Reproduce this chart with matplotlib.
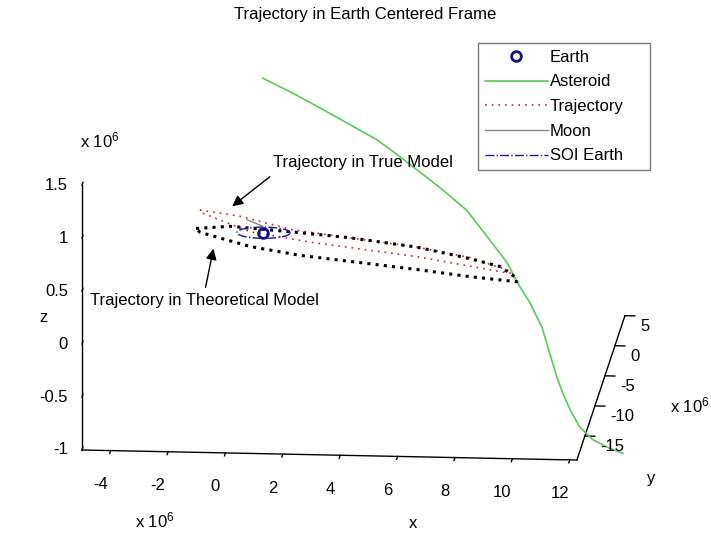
import numpy as np
import matplotlib
matplotlib.use('Agg')
import matplotlib.pyplot as plt
from matplotlib import ticker
from matplotlib.patches import FancyArrowPatch
from mpl_toolkits.mplot3d import proj3d

plt.rcParams['font.family'] = ['Liberation Sans', 'DejaVu Sans']
plt.rcParams['mathtext.fontset'] = 'custom'
plt.rcParams['mathtext.rm'] = 'Liberation Sans'
plt.rcParams['mathtext.default'] = 'rm'

# all positions in units of 10^6 km, Earth centred frame
earth = [0.0, 0.0, 0.0]

ast_x = [-0.30, 0.82, 1.93, 2.94, 3.95, 4.55, 5.45, 6.43, 7.33, 8.21, 8.87,
         9.39, 9.79, 10.28, 10.64, 10.98, 11.27, 11.66, 12.14, 12.70, 13.26, 13.89]
ast_y = [4.0, 3.0, 2.0, 1.0, 0.0, -0.5, -1.5, -2.5, -3.5, -4.5, -5.5,
         -6.5, -7.3, -8.2, -9.5, -10.8, -12.0, -14.0, -16.0, -17.5, -18.5, -19.5]
ast_z = [1.23, 1.15, 1.06, 0.98, 0.90, 0.82, 0.71, 0.58, 0.45, 0.23, 0.08,
         -0.09, -0.19, -0.37, -0.54, -0.69, -0.77, -0.81, -0.86, -0.89, -0.90, -0.90]

# trajectory, true model (red)
true_x = [-2.28, -0.82, -0.02, 1.11, 3.19, 5.63, 7.56, 9.08, 9.01, 5.63, 1.73, -0.46, -2.28, -2.28]
true_y = [0.91, 0.01, -0.49, -1.18, -2.47, -3.97, -5.17, -6.11, -6.06, -3.97, -1.57, -0.22, 0.91, 0.91]
true_z = [0.15, 0.15, 0.13, 0.10, 0.11, 0.12, 0.10, 0.03, 0.01, 0.03, 0.01, 0.02, 0.13, 0.15]

# trajectory, theoretical model (black)
theo_x = [-2.42, -1.18, 1.11, 3.19, 5.63, 7.56, 8.65, 9.23, 9.26, 7.56, 5.73, 3.55, 1.36, -0.46, -2.28, -2.42]
theo_y = [1.0, 0.24, -1.18, -2.47, -3.97, -5.17, -5.84, -6.2, -6.2, -5.17, -4.04, -2.69, -1.34, -0.22, 0.91, 1.0]
theo_z = [-0.03, 0.04, 0.08, 0.11, 0.12, 0.09, 0.06, -0.02, -0.06, -0.08, -0.09, -0.11, -0.13, -0.12, -0.06, -0.03]

moon_x = [-0.57, -0.30, -0.02]
moon_y = [0.0, 0.0, 0.0]
moon_z = [0.12, 0.09, 0.06]

soi_r = 0.925

x_ticks = [-4, -2, 0, 2, 4, 6, 8, 10, 12]
y_ticks = [-15, -10, -5, 0, 5]
z_ticks = [-1, -0.5, 0, 0.5, 1, 1.5]
x_lim = (-5, 12.25)
y_lim = (-19, 5)
z_lim = (-1, 1.5)

W, H = 711, 535
fig = plt.figure(figsize=(W / 100, H / 100), dpi=100)
fig.patch.set_facecolor('white')
ax = fig.add_axes([-0.2, -0.3, 1.4, 1.6], projection='3d', proj_type='ortho')
ax.patch.set_alpha(0)

ax.set_xlim(*x_lim)
ax.set_ylim(*y_lim)
ax.set_zlim(*z_lim)
ax.view_init(elev=14.3, azim=-85.3)
aspect = (497, 587, 273.5)
ax.set_box_aspect(aspect)

# curves
ast_h, = ax.plot(ast_x, ast_y, ast_z, color='#55cc55', lw=1.2, clip_on=False)
true_h, = ax.plot(true_x, true_y, true_z, color='#cc2222', lw=1.2,
                  linestyle=(0, (1, 3)), clip_on=False)
ax.plot(theo_x, theo_y, theo_z, color='k', lw=2.2, linestyle=(0, (1, 1.7)), clip_on=False)
moon_h, = ax.plot(moon_x, moon_y, moon_z, color='#888888', lw=1, clip_on=False)
t = np.linspace(0, 2 * np.pi, 120)
soi_h, = ax.plot(soi_r * np.cos(t), soi_r * np.sin(t), np.zeros_like(t),
                 color='#1a1a8c', lw=1, linestyle='-.', clip_on=False)
earth_h, = ax.plot([earth[0]], [earth[1]], [earth[2]], 'o', color='#101090',
                   ms=7, mew=2, mfc='none', clip_on=False)

# axes look (tick labels are written below, MATLAB style)
ax.grid(False)
tick_dirs = {'x': (0.25, 0.0), 'y': (0.25, 0.0), 'z': (0.0, 0.25)}
for name, a, tk in (('x', ax.xaxis, x_ticks), ('y', ax.yaxis, y_ticks), ('z', ax.zaxis, z_ticks)):
    a.set_pane_color((1, 1, 1, 0))
    a.pane.set_edgecolor((1, 1, 1, 0))
    a.line.set_color('k')
    a.line.set_linewidth(1)
    a.set_ticks(tk)
    a.set_major_formatter(ticker.NullFormatter())
    a._axinfo['tick']['inward_factor'] = tick_dirs[name][0]
    a._axinfo['tick']['outward_factor'] = tick_dirs[name][1]
    a._axinfo['tick']['linewidth'] = {True: 1.0, False: 0.5}
ax.zaxis.set_ticks_position('lower')


def to_px(x, y, z):
    xs, ys, _ = proj3d.proj_transform(x, y, z, ax.get_proj())
    return ax.transData.transform((xs, ys))


# fit the projected box onto the reference frame
fig.canvas.draw()
p0 = to_px(x_lim[0], y_lim[0], z_lim[0])
p1 = to_px(x_lim[1], y_lim[0], z_lim[0])
ax.set_box_aspect(aspect, zoom=495 / np.hypot(*(p1 - p0)))
fig.canvas.draw()
p0 = to_px(x_lim[0], y_lim[0], z_lim[0])
pos = ax.get_position(original=True)
ax.set_position([pos.x0 + (82 - p0[0]) / W, pos.y0 + ((H - 450) - p0[1]) / H,
                 pos.width, pos.height])
fig.canvas.draw()

# tick labels
for v in x_ticks:
    px, py = to_px(v, y_lim[0], z_lim[0])
    fig.text((px - 10) / W, (py - 34) / H, f'{v:g}', ha='center', va='center', fontsize=12)
for v in y_ticks:
    px, py = to_px(x_lim[1], v, z_lim[0])
    fig.text((px + 15) / W, (py - 11) / H, f'{v:g}', ha='left', va='center', fontsize=12)
for v in z_ticks:
    px, py = to_px(x_lim[0], y_lim[0], v)
    fig.text((px - 14) / W, py / H, f'{v:g}', ha='right', va='center', fontsize=12)


def fx(px):
    return px / W


def fy(py):
    return 1 - py / H


fig.text(fx(365), fy(15), 'Trajectory in Earth Centered Frame', ha='center', va='center', fontsize=12)
fig.text(fx(413), fy(523), 'x', ha='center', va='center', fontsize=12)
fig.text(fx(651), fy(478), 'y', ha='center', va='center', fontsize=12)
fig.text(fx(43), fy(318), 'z', ha='center', va='center', fontsize=12)
fig.text(fx(100), fy(140), 'x $10^6$', ha='center', va='center', fontsize=12)
fig.text(fx(155), fy(520), 'x $10^6$', ha='center', va='center', fontsize=12)
fig.text(fx(690), fy(405), 'x $10^6$', ha='center', va='center', fontsize=12)

fig.text(fx(273), fy(163), 'Trajectory in True Model', ha='left', va='center', fontsize=12)
fig.text(fx(90), fy(300), 'Trajectory in Theoretical Model', ha='left', va='center', fontsize=12)
for tail, tip in (((272, 175), (230, 208)), ((205, 290), (214, 246))):
    fig.add_artist(FancyArrowPatch((fx(tail[0]), fy(tail[1])), (fx(tip[0]), fy(tip[1])),
                                   transform=fig.transFigure, arrowstyle='-|>',
                                   mutation_scale=16, color='k', lw=1))

leg = fig.legend([earth_h, ast_h, true_h, moon_h, soi_h],
                 ['Earth', 'Asteroid', 'Trajectory', 'Moon', 'SOI Earth'],
                 loc='upper left', bbox_to_anchor=(fx(478), fy(43), fx(650) - fx(478), 0),
                 mode='expand', fontsize=12, handlelength=3.8, handletextpad=0.1,
                 labelspacing=0.58, borderpad=0.4, borderaxespad=0, fancybox=False,
                 frameon=True)
leg.get_frame().set_edgecolor('#555555')
leg.get_frame().set_linewidth(1)

fig.savefig('out.png', dpi=100)
